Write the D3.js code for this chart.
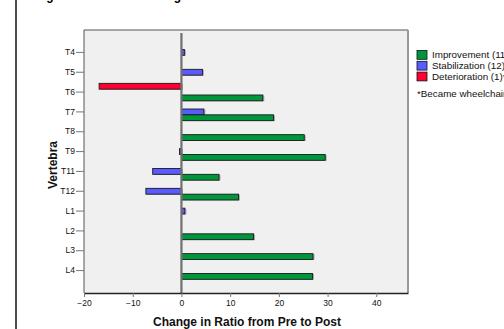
<!DOCTYPE html>
<html><head><meta charset="utf-8">
<script src="https://cdn.jsdelivr.net/npm/d3@7"></script>
<style>html,body{margin:0;padding:0;background:#fff;overflow:hidden}svg{display:block;font-family:"Liberation Sans",Arial,sans-serif}</style>
</head><body><svg id="c" width="504" height="329"></svg>
<script>
const categories = ["T4","T5","T6","T7","T8","T9","T11","T12","L1","L2","L3","L4"];
const seriesNames = ["Deterioration","Stabilization","Improvement"];
const deterioration = [null,null,-16.9,null,null,null,null,null,null,null,null,null];
const stabilization = [0.6,4.3,null,4.6,null,-0.4,-5.9,-7.3,0.7,null,null,null];
const improvement   = [null,null,16.7,18.9,25.2,29.5,7.7,11.7,null,14.8,27.0,26.9];
const xTicks = [-20,-10,0,10,20,30,40];
const legendLabels = ["Improvement (11)","Stabilization (12)","Deterioration (1)*"];
const note = "*Became wheelchair bound";
const colors = {Improvement:"#00963c", Stabilization:"#5a5aff", Deterioration:"#ff0033"};

const svg = d3.select("#c");
const L=84, R=408, T=30, B=293;

// partial title (cut at top edge, as in the reference)
svg.append("text").attr("x",35.7).attr("y",-0.5).attr("font-weight","bold").attr("font-size",12)
  .text("Figure 4. Vertebral Changes");

// left frame line
svg.append("line").attr("x1",16).attr("x2",16).attr("y1",0).attr("y2",329).attr("stroke","#111").attr("stroke-width",1.5);

const x = d3.scaleLinear().domain([-20,46.5]).range([L,R]);
const y = d3.scaleBand().domain(categories).range([T,B]).paddingInner(0.12).paddingOuter(0.69);
const yi = d3.scaleBand().domain(seriesNames).range([0,y.bandwidth()]);

svg.append("rect").attr("x",L).attr("y",T).attr("width",R-L).attr("height",B-T).attr("fill","#f0f0f0");

const data = [];
const seriesMap = {Deterioration:deterioration, Stabilization:stabilization, Improvement:improvement};
seriesNames.forEach(s=>categories.forEach((c,i)=>{const v=seriesMap[s][i]; if(v!==null) data.push({s,c,v});}));

const g = svg.append("g");
g.selectAll("rect.sh").data(data).join("rect").attr("class","sh")
  .attr("x",d=>Math.min(x(0),x(d.v))+1.5).attr("y",d=>y(d.c)+yi(d.s)+0.5)
  .attr("width",d=>Math.abs(x(d.v)-x(0))).attr("height",yi.bandwidth())
  .attr("fill","#999").attr("opacity",0.8);
g.selectAll("rect.bar").data(data).join("rect").attr("class","bar")
  .attr("x",d=>Math.min(x(0),x(d.v))).attr("y",d=>y(d.c)+yi(d.s))
  .attr("width",d=>Math.abs(x(d.v)-x(0))).attr("height",yi.bandwidth())
  .attr("fill",d=>colors[d.s]).attr("stroke","#1a1a1a").attr("stroke-width",0.9);

// zero line
svg.append("line").attr("x1",x(0)).attr("x2",x(0)).attr("y1",T+3).attr("y2",B).attr("stroke","#707070").attr("stroke-width",2.2);

// frame
svg.append("line").attr("x1",L).attr("x2",R).attr("y1",T).attr("y2",T).attr("stroke","#555").attr("stroke-width",1);
svg.append("line").attr("x1",L).attr("x2",L).attr("y1",T).attr("y2",B).attr("stroke","#555").attr("stroke-width",1);
svg.append("line").attr("x1",R).attr("x2",R).attr("y1",T).attr("y2",B).attr("stroke","#999").attr("stroke-width",2);

// x axis
const xa = svg.append("g").attr("transform",`translate(0,${B})`)
  .call(d3.axisBottom(x).tickValues(xTicks).tickSize(4).tickSizeOuter(0).tickPadding(3));
xa.select(".domain").attr("stroke","#222").attr("stroke-width",1.3);
xa.selectAll(".tick line").attr("stroke","#777");
xa.selectAll("text").attr("font-size",8.5).attr("fill","#111").attr("font-family","Liberation Sans, Arial");

// y axis
const ya = svg.append("g").attr("transform",`translate(${L},0)`)
  .call(d3.axisLeft(y).tickSize(8).tickSizeOuter(0).tickPadding(1));
ya.select(".domain").remove();
ya.selectAll(".tick line").attr("stroke","#777");
ya.selectAll("text").attr("font-size",8.5).attr("fill","#111").attr("font-family","Liberation Sans, Arial");

// axis titles
svg.append("text").attr("x",247).attr("y",325.5).attr("text-anchor","middle").attr("font-weight","bold").attr("font-size",12).attr("fill","#111")
  .text("Change in Ratio from Pre to Post");
svg.append("text").attr("transform","translate(57,165) rotate(-90)").attr("text-anchor","middle").attr("font-weight","bold").attr("font-size",12).attr("fill","#111")
  .text("Vertebra");

// legend
const legSeries = ["Improvement","Stabilization","Deterioration"];
const lg = svg.append("g");
legSeries.forEach((s,i)=>{
  lg.append("rect").attr("x",417).attr("y",50.5+i*10.8).attr("width",10).attr("height",8.8)
    .attr("fill",colors[s]).attr("stroke","#111").attr("stroke-width",0.8);
  lg.append("text").attr("x",432).attr("y",58.3+i*10.8).attr("font-size",9.8).attr("fill","#111").text(legendLabels[i]);
});
svg.append("text").attr("x",417).attr("y",97).attr("font-size",9.8).attr("fill","#111").text(note);
</script></body></html>
